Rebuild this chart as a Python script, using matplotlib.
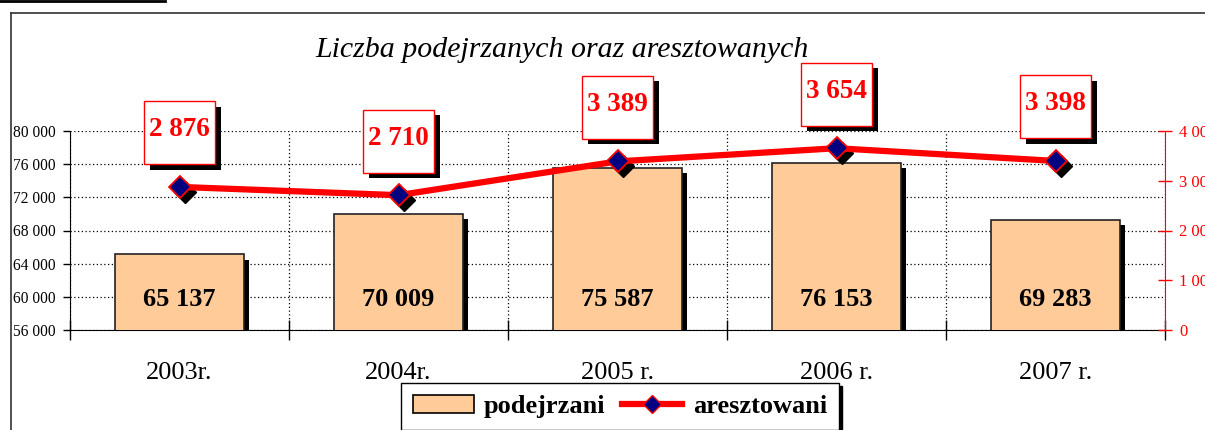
import matplotlib
matplotlib.use("Agg")
import matplotlib.pyplot as plt
import matplotlib.patheffects as pe
import matplotlib.transforms as mtransforms
from matplotlib.patches import Rectangle, Patch
from matplotlib.lines import Line2D

# data
years = ["2003r.", "2004r.", "2005 r.", "2006 r.", "2007 r."]
podejrzani = [65137, 70009, 75587, 76153, 69283]
aresztowani = [2876, 2710, 3389, 3654, 3398]

left_ticks = [56000, 60000, 64000, 68000, 72000, 76000, 80000]
right_ticks = [0, 1000, 2000, 3000, 4000]

plt.rcParams["font.family"] = ["Liberation Serif", "DejaVu Serif"]

def fmt(v):
    return "{:,}".format(v).replace(",", " ")

fig = plt.figure(figsize=(12.05, 4.30), dpi=100)
W, H = 1205.0, 430.0

ax = fig.add_axes([70 / W, 100 / H, 1095 / W, 199 / H])
x = list(range(len(years)))

# bars with black drop shadow
bars = ax.bar(x, podejrzani, width=0.585, color="#FFCC99", edgecolor="#222222",
              linewidth=1.2, zorder=3)
for b in bars:
    b.set_path_effects([pe.SimplePatchShadow(offset=(4, -4), shadow_rgbFace="black", alpha=1.0),
                        pe.Normal()])
for xi, v in zip(x, podejrzani):
    ax.text(xi, 59700, fmt(v), ha="center", va="center", fontsize=19,
            fontweight="bold", color="black", zorder=4)

ax.set_xlim(-0.5, 4.5)
ax.set_ylim(left_ticks[0], left_ticks[-1])
ax.set_yticks(left_ticks)
ax.set_yticklabels([fmt(t) for t in left_ticks], fontsize=11.2)
ax.tick_params(axis="y", direction="out", length=5, width=1, pad=5)
ax.set_xticks(x)
ax.set_xticklabels(years, fontsize=19)
ax.tick_params(axis="x", which="major", length=0, pad=23)
ax.set_xticks([i - 0.5 for i in range(len(years) + 1)], minor=True)
ax.tick_params(axis="x", which="minor", direction="inout", length=14, width=1)
ax.grid(axis="y", which="major", linestyle=(0, (1, 2)), color="black", linewidth=0.9, zorder=0)
ax.grid(axis="x", which="minor", linestyle=(0, (1, 2)), color="black", linewidth=0.9, zorder=0)
ax.set_axisbelow(True)
ax.spines["top"].set_visible(False)
ax.spines["right"].set_visible(False)

# line on the secondary axis
ax2 = ax.twinx()
ax2.set_ylim(right_ticks[0], right_ticks[-1])
ax2.set_yticks(right_ticks)
ax2.set_yticklabels([fmt(t) for t in right_ticks], fontsize=12, color="red")
ax2.tick_params(axis="y", direction="inout", length=10, width=1, color="red", pad=5)
for s in ["top", "left", "bottom"]:
    ax2.spines[s].set_visible(False)
ax2.spines["right"].set_color("red")

shadow = ax2.transData + mtransforms.ScaledTranslation(0.05, -0.05, fig.dpi_scale_trans)
ax2.plot(x, aresztowani, linestyle="none", marker="D", markersize=11,
         color="black", transform=shadow, zorder=2, clip_on=False)
ax2.plot(x, aresztowani, color="red", linewidth=4.5, marker="D", markersize=11,
         markerfacecolor="#000080", markeredgecolor="red", markeredgewidth=1.3,
         zorder=3, clip_on=False)

# value boxes above the points
for xi, v in zip(x, aresztowani):
    tr = fig.dpi_scale_trans + mtransforms.ScaledTranslation(xi, v, ax2.transData)
    ax2.add_patch(Rectangle((-0.295, 0.17), 0.71, 0.63, transform=tr, facecolor="black",
                            edgecolor="none", clip_on=False, zorder=5))
    ax2.add_patch(Rectangle((-0.355, 0.225), 0.71, 0.63, transform=tr, facecolor="white",
                            edgecolor="red", linewidth=1, clip_on=False, zorder=6))
    ax2.text(0, 0.57, fmt(v), transform=tr, ha="center", va="center", fontsize=19.5,
             fontweight="bold", color="red", zorder=7)

# title
fig.text(562 / W, 1 - 50 / H, "Liczba podejrzanych oraz aresztowanych", ha="center",
         va="center", fontsize=21.5, style="italic")

# outer frame and the cut underline at the top
fig.add_artist(Line2D([11 / W, 11 / W], [0, 1 - 13 / H], color="#333333", linewidth=1.2))
fig.add_artist(Line2D([11 / W, 1], [1 - 13 / H, 1 - 13 / H], color="#333333", linewidth=1.2))
fig.add_artist(Line2D([0, 165 / W], [1 - 1 / H, 1 - 1 / H], color="black", linewidth=2))

# legend
handles = [Patch(facecolor="#FFCC99", edgecolor="black", linewidth=1.2),
           Line2D([], [], color="red", linewidth=4.5, marker="D", markersize=9,
                  markerfacecolor="#000080", markeredgecolor="red")]
leg = fig.legend(handles, ["podejrzani", "aresztowani"], loc="upper center",
                 bbox_to_anchor=(620 / W, 1 - 383 / H), borderaxespad=0, ncol=2,
                 frameon=True, fancybox=False, shadow={"color": "black", "alpha": 1.0},
                 prop={"weight": "bold", "size": 19}, handlelength=2.3, handleheight=0.7,
                 columnspacing=0.6, handletextpad=0.4, borderpad=0.45)
leg.get_frame().set_edgecolor("black")
leg.get_frame().set_linewidth(1)

fig.savefig("out.png", dpi=100)
